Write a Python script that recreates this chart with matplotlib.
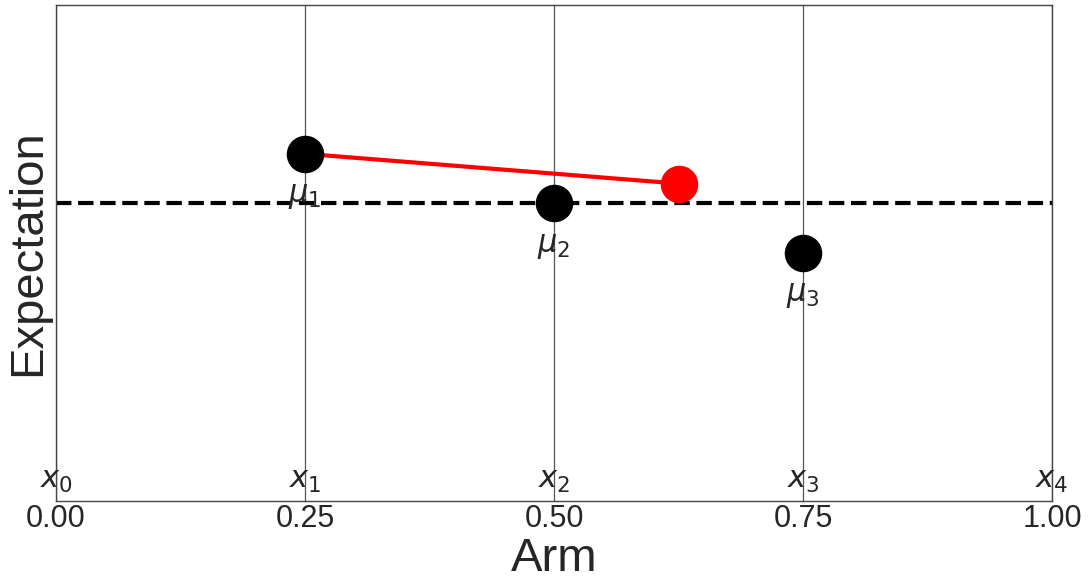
import matplotlib
matplotlib.use('Agg')
import matplotlib.pyplot as plt
import numpy as np

# data
arm_edges = [0.0, 0.25, 0.5, 0.75, 1.0]
arm_x = [0.25, 0.5, 0.75]
arm_mu = [0.7, 0.6, 0.5]
mean_level = 0.6
new_x = 0.625
new_y = 0.64
edge_labels = [r'$x_0$', r'$x_1$', r'$x_2$', r'$x_3$', r'$x_4$']
mu_labels = [r'$\mu_1$', r'$\mu_2$', r'$\mu_3$']

plt.rcParams['font.family'] = ['Liberation Sans', 'DejaVu Sans']
plt.rcParams['mathtext.fontset'] = 'dejavusans'
txt = '#262626'

fig = plt.figure(figsize=(10.88, 5.76), dpi=100)
ax = fig.add_axes([0.0515, 0.1302, 0.9154, 0.8611])
ax.set_xlim(0, 1)
ax.set_ylim(0, 1)

for x in arm_edges:
    ax.axvline(x, color='#555555', lw=0.9, zorder=1)

ax.axhline(mean_level, color='black', ls='--', lw=3, zorder=2, clip_on=False)
ax.plot([arm_x[0], new_x], [arm_mu[0], new_y], color='red', lw=3, zorder=3)
ax.plot(arm_x, arm_mu, 'o', color='black', ms=26, zorder=4)
ax.plot([new_x], [new_y], 'o', color='red', ms=26, zorder=4)

for x, m, lab in zip(arm_x, arm_mu, mu_labels):
    ax.text(x, m - 0.055, lab, ha='center', va='top', fontsize=22, color=txt, zorder=5)
for x, lab in zip(arm_edges, edge_labels):
    ax.text(x, 0.012, lab, ha='center', va='bottom', fontsize=22, color=txt, zorder=5)

ax.set_xticks(arm_edges)
ax.set_xticklabels(['0.00', '0.25', '0.50', '0.75', '1.00'])
ax.tick_params(axis='x', length=0, labelsize=22, labelcolor=txt, pad=2)
ax.set_yticks([])
ax.set_xlabel('Arm', fontsize=34, color=txt, labelpad=2)
ax.set_ylabel('Expectation', fontsize=34, color=txt, labelpad=4)
for s in ax.spines.values():
    s.set_color('#444444')
    s.set_linewidth(1.0)

fig.savefig('out.png', dpi=100)
